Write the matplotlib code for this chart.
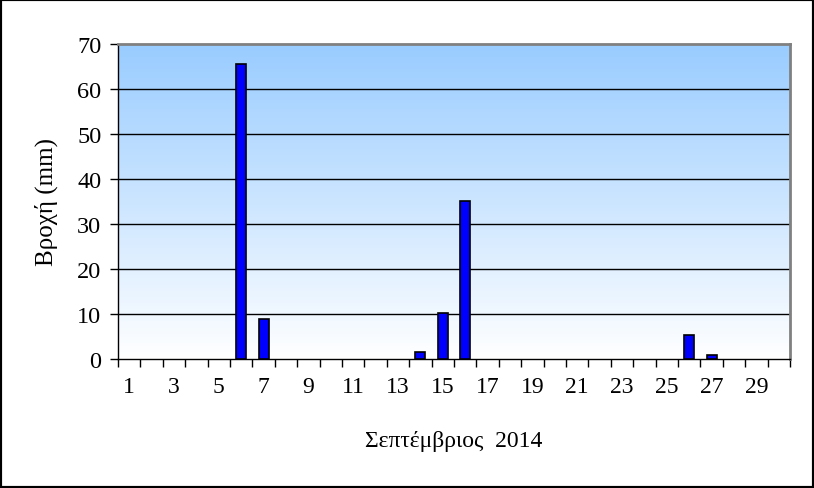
import matplotlib.pyplot as plt
import numpy as np

days = list(range(1, 31))
rain_mm = [0, 0, 0, 0, 0, 65.5, 9.0, 0, 0, 0,
           0, 0, 0, 1.5, 10.2, 35.2, 0, 0, 0, 0,
           0, 0, 0, 0, 0, 5.3, 0.8, 0, 0, 0]
tick_days = list(range(1, 31, 2))
y_ticks = [0, 10, 20, 30, 40, 50, 60, 70]

plt.rcParams["font.family"] = ["Liberation Serif", "DejaVu Serif"]

fig = plt.figure(figsize=(8.14, 4.89), dpi=100)
ax = fig.add_axes([118 / 814, 1 - 360 / 489, (790 - 118) / 814, (360 - 45) / 489])

# gradient background, light blue on top fading to white
grad = np.linspace(0, 1, 256).reshape(-1, 1)
top = np.array([0.60, 0.80, 1.0])
bottom = np.array([1.0, 1.0, 1.0])
img = bottom + (top - bottom) * grad[:, :, None] * np.ones((1, 1, 3))
ax.imshow(img, extent=[0.5, 30.5, 0, 70], origin="lower", aspect="auto", zorder=0)

for v in y_ticks[1:-1]:
    ax.axhline(v, color="black", linewidth=1.0, zorder=1)

# zero days get no bar at all
wet_days = [d for d, r in zip(days, rain_mm) if r > 0]
wet_rain = [r for r in rain_mm if r > 0]
ax.bar(wet_days, wet_rain, width=0.45, color="#0000FF", edgecolor="black", linewidth=1.2, zorder=3)

ax.set_xlim(0.5, 30.5)
ax.set_ylim(0, 70)
ax.set_yticks(y_ticks)
ax.set_xticks(tick_days)
ax.set_xticks(np.arange(0.5, 31, 1), minor=True)
ax.tick_params(axis="x", which="major", length=0, labelsize=17, pad=12)
ax.tick_params(axis="x", which="minor", length=6, width=1, direction="out")
ax.tick_params(axis="y", length=6, width=1, labelsize=17.5, pad=6)

for s in ["top", "right"]:
    ax.spines[s].set_color("#808080")
    ax.spines[s].set_linewidth(2)
ax.spines["left"].set_linewidth(1)
ax.spines["bottom"].set_linewidth(1)

ax.set_ylabel("Βροχή (mm)", fontsize=18, labelpad=14)
ax.set_xlabel("Σεπτέμβριος  2014", fontsize=17, labelpad=24)

# figure border
fig.patches.append(plt.Rectangle((0, 0), 1, 1, transform=fig.transFigure,
                                 fill=False, edgecolor="black", linewidth=3))

fig.savefig("out.png", dpi=100)
